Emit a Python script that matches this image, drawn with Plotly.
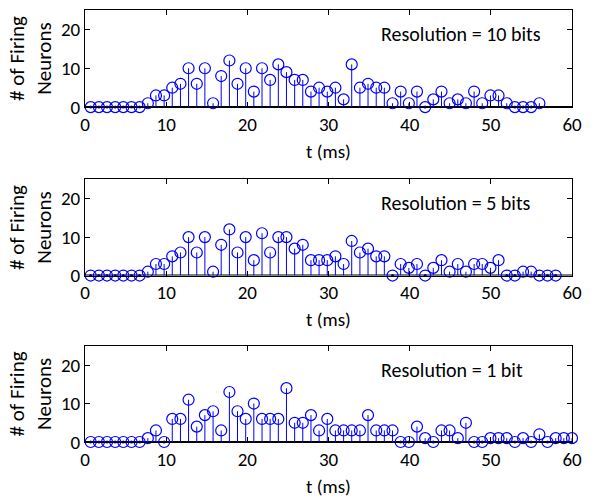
import plotly.graph_objects as go

# sample times (ms)
t_ms = [0.70, 1.71, 2.71, 3.72, 4.72, 5.73, 6.73, 7.74, 8.74, 9.75,
        10.75, 11.76, 12.76, 13.77, 14.77, 15.78, 16.78, 17.79, 18.79, 19.80,
        20.80, 21.81, 22.81, 23.82, 24.82, 25.83, 26.83, 27.84, 28.84, 29.85,
        30.85, 31.86, 32.86, 33.87, 34.87, 35.88, 36.88, 37.89, 38.89, 39.90,
        40.90, 41.91, 42.91, 43.92, 44.92, 45.93, 46.93, 47.94, 48.94, 49.95,
        50.95, 51.96, 52.96, 53.97, 54.97, 55.98, 56.98, 57.99, 58.99, 60.00]

firing_10bits = [0, 0, 0, 0, 0, 0, 0, 1, 3, 3, 5, 6, 10, 6, 10, 1, 8, 12, 6, 10,
                 4, 10, 7, 11, 9, 7, 7, 4, 5, 4, 5, 2, 11, 5, 6, 5, 5, 1, 4, 1,
                 4, 0, 2, 4, 1, 2, 1, 4, 1, 3, 3, 1, 0, 0, 0, 1]

firing_5bits = [0, 0, 0, 0, 0, 0, 0, 1, 3, 3, 5, 6, 10, 6, 10, 1, 8, 12, 6, 10,
                4, 11, 6, 10, 10, 7, 8, 4, 4, 4, 5, 3, 9, 6, 7, 5, 5, 0, 3, 2,
                3, 0, 2, 4, 1, 3, 1, 3, 3, 2, 4, 0, 0, 1, 1, 0, 0, 0]

firing_1bit = [0, 0, 0, 0, 0, 0, 0, 1, 3, 0, 6, 6, 11, 4, 7, 8, 3, 13, 8, 6,
               10, 6, 6, 6, 14, 5, 5, 7, 3, 6, 3, 3, 3, 3, 7, 3, 3, 3, 0, 0,
               4, 1, 0, 3, 3, 1, 5, 0, 0, 1, 1, 1, 0, 1, 0, 2, 0, 1, 1, 1]

panel_labels = ["Resolution = 10 bits", "Resolution = 5 bits", "Resolution = 1 bit"]
x_ticks = [0, 10, 20, 30, 40, 50, 60]
y_ticks = [0, 10, 20]

series = [firing_10bits, firing_5bits, firing_1bit]
domains = [[0.7752, 1.0], [0.3853, 0.6078], [0.0, 0.2225]]

FONT = "Carlito, Calibri, Lato, sans-serif"
BLUE = "#0000FF"

fig = go.Figure()
layout = dict(
    width=602, height=502,
    margin=dict(l=85, r=30, t=9, b=57),
    paper_bgcolor="white", plot_bgcolor="white",
    showlegend=False,
    font=dict(family=FONT, size=19, color="black"),
    annotations=[], shapes=[],
)

for i, vals in enumerate(series):
    sfx = "" if i == 0 else str(i + 1)
    xa, ya = "x" + sfx, "y" + sfx
    t = t_ms[:len(vals)]
    xs, ys = [], []
    for ti, v in zip(t, vals):
        xs += [ti, ti, None]
        ys += [0, v, None]
    fig.add_trace(go.Scatter(x=xs, y=ys, mode="lines", line=dict(color=BLUE, width=1),
                             xaxis=xa, yaxis=ya, cliponaxis=False, hoverinfo="skip"))
    fig.add_trace(go.Scatter(x=t, y=vals, mode="markers",
                             marker=dict(symbol="circle-open", size=11, color=BLUE,
                                         line=dict(width=1.2, color=BLUE)),
                             xaxis=xa, yaxis=ya, cliponaxis=False))
    zt = [ti for ti, v in zip(t, vals) if v == 0]
    zv = [v for v in vals if v == 0]
    fig.add_trace(go.Scatter(x=zt, y=zv, mode="markers",
                             marker=dict(symbol="circle", size=3, color="#000080"),
                             xaxis=xa, yaxis=ya, cliponaxis=False, hoverinfo="skip"))

    axkw = dict(showline=True, linecolor="black", linewidth=1, mirror="ticks",
                ticks="inside", ticklen=5, tickcolor="black", tickwidth=1,
                showgrid=False, zeroline=False, tickfont=dict(size=19, family=FONT))
    layout["xaxis" + sfx] = dict(axkw, range=[0, 60], tickvals=x_ticks,
                                 domain=[0, 1], anchor=ya,
                                 title=dict(text="t (ms)", standoff=9,
                                            font=dict(size=19, family=FONT)))
    layout["yaxis" + sfx] = dict(axkw, range=[0, 25], tickvals=y_ticks,
                                 domain=domains[i], anchor=xa,
                                 title=dict(text="# of Firing<br>Neurons", standoff=3,
                                            font=dict(size=21, family=FONT)))
    layout["shapes"].append(dict(type="line", xref=xa + " domain", yref=ya,
                                 x0=0, x1=1, y0=0, y1=0, layer="below",
                                 line=dict(color="black", width=2)))
    layout["annotations"].append(dict(text=panel_labels[i], xref=xa, yref=ya,
                                      x=36.2, y=18.8, xanchor="left", yanchor="middle",
                                      showarrow=False, font=dict(size=20, family=FONT)))

fig.update_layout(**layout)
fig.write_html("out.html")
